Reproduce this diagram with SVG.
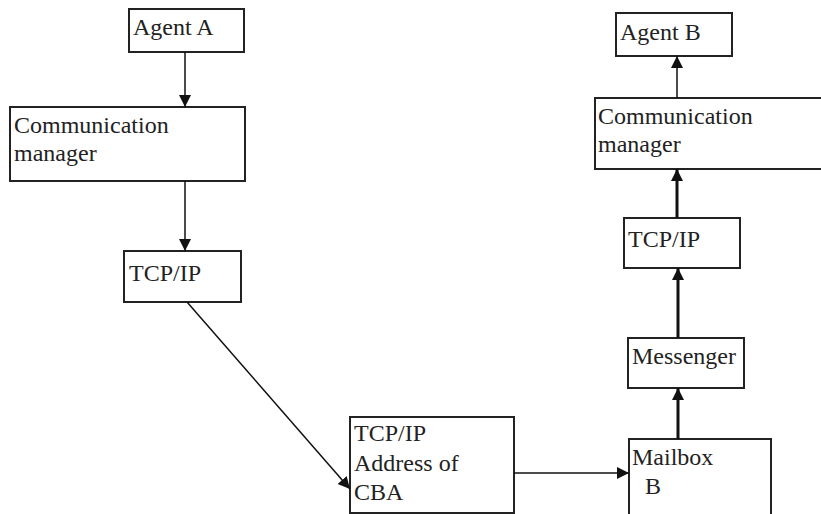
<svg xmlns="http://www.w3.org/2000/svg" width="821" height="514" viewBox="0 0 821 514">
<style>
.box{fill:#fff;stroke:#222;stroke-width:2}
.t{font-family:"Liberation Serif","Times New Roman",serif;font-size:24px;fill:#222}
.c{stroke:#111;fill:none}
.thin{stroke-width:1.5}
.thick{stroke-width:3}
</style>
<defs>
<marker id="ah" markerUnits="userSpaceOnUse" markerWidth="12" markerHeight="14" refX="12" refY="6" orient="auto" viewBox="0 0 12 12">
<path d="M0,0 L12,6 L0,12 Z" fill="#111"/>
</marker>
</defs>
<g id="agentA"><rect class="box" x="129" y="9" width="115" height="43"/><text class="t" x="133" y="35">Agent A</text></g>
<g id="commA"><rect class="box" x="10" y="107" width="235" height="74"/><text class="t" x="14" y="133">Communication</text><text class="t" x="14" y="161">manager</text></g>
<g id="tcpA"><rect class="box" x="124" y="251" width="117" height="51"/><text class="t" x="129" y="281">TCP/IP</text></g>
<g id="tcpAddr"><rect class="box" x="350" y="417" width="164" height="96"/><text class="t" x="354" y="441">TCP/IP</text><text class="t" x="354" y="471">Address of</text><text class="t" x="354" y="500">CBA</text></g>
<g id="mailbox"><path class="box" d="M629,516 L629,439 L771,439 L771,516"/><text class="t" x="632" y="465">Mailbox</text><text class="t" x="645" y="494">B</text></g>
<g id="messenger"><rect class="box" x="628" y="338" width="116" height="50"/><text class="t" x="632" y="364">Messenger</text></g>
<g id="tcpB"><rect class="box" x="624" y="218" width="116" height="50"/><text class="t" x="628" y="247">TCP/IP</text></g>
<g id="commB"><rect class="box" x="595" y="98" width="230" height="71"/><text class="t" x="598" y="124">Communication</text><text class="t" x="598" y="152">manager</text></g>
<g id="agentB"><rect class="box" x="616" y="13" width="116" height="43"/><text class="t" x="620" y="40">Agent B</text></g>
<g id="connectors">
<line class="c thin" x1="185" y1="52" x2="185" y2="107" marker-end="url(#ah)"/>
<line class="c thin" x1="185" y1="181" x2="185" y2="251" marker-end="url(#ah)"/>
<line class="c thin" x1="187" y1="302" x2="350" y2="489" marker-end="url(#ah)"/>
<line class="c thin" x1="514" y1="473" x2="629" y2="473" marker-end="url(#ah)"/>
<line class="c thick" x1="678" y1="439" x2="678" y2="388" marker-end="url(#ah)"/>
<line class="c thick" x1="678" y1="338" x2="678" y2="268" marker-end="url(#ah)"/>
<line class="c thick" x1="677" y1="218" x2="677" y2="169" marker-end="url(#ah)"/>
<line class="c thin" x1="677" y1="98" x2="677" y2="56" marker-end="url(#ah)"/>
</g>
</svg>
